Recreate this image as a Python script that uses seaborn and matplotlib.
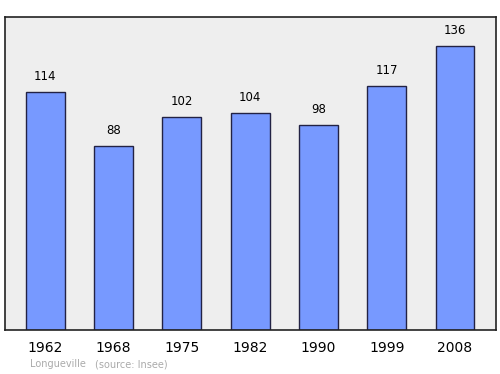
import matplotlib
matplotlib.use("Agg")
import matplotlib.pyplot as plt
import seaborn as sns
import pandas as pd

years = ["1962", "1968", "1975", "1982", "1990", "1999", "2008"]
population = [114, 88, 102, 104, 98, 117, 136]
town = "Longueville"
source = "(source: Insee)"

df = pd.DataFrame({"year": years, "pop": population})

sns.set_style("white")
plt.rcParams["font.family"] = ["DejaVu Sans"]

fig = plt.figure(figsize=(5, 3.74), dpi=100)
ax = fig.add_axes([0.01, 0.1176, 0.982, 0.837])
ax.set_facecolor("#eeeeee")

sns.barplot(data=df, x="year", y="pop", color="#7799ff", saturation=1,
            width=0.57, edgecolor="#222244", linewidth=1.0, ax=ax)

for i, v in enumerate(population):
    ax.annotate(str(v), (i, v), xytext=(0, 6.5), textcoords="offset points",
                ha="center", va="bottom", fontsize=8.5, color="black")

ax.set_xlim(-0.59, 6.6)
ax.set_ylim(0, 150)
ax.set_yticks([])
ax.set_xlabel("")
ax.set_ylabel("")
ax.tick_params(axis="x", length=0, pad=8, labelsize=10, labelcolor="black")
for s in ax.spines.values():
    s.set_color("#222222")
    s.set_linewidth(1.2)

fig.text(0.06, 0.018, town, color="#aaaaaa", fontsize=7)
fig.text(0.19, 0.018, source, color="#aaaaaa", fontsize=7)

fig.savefig("out.png", dpi=100)
